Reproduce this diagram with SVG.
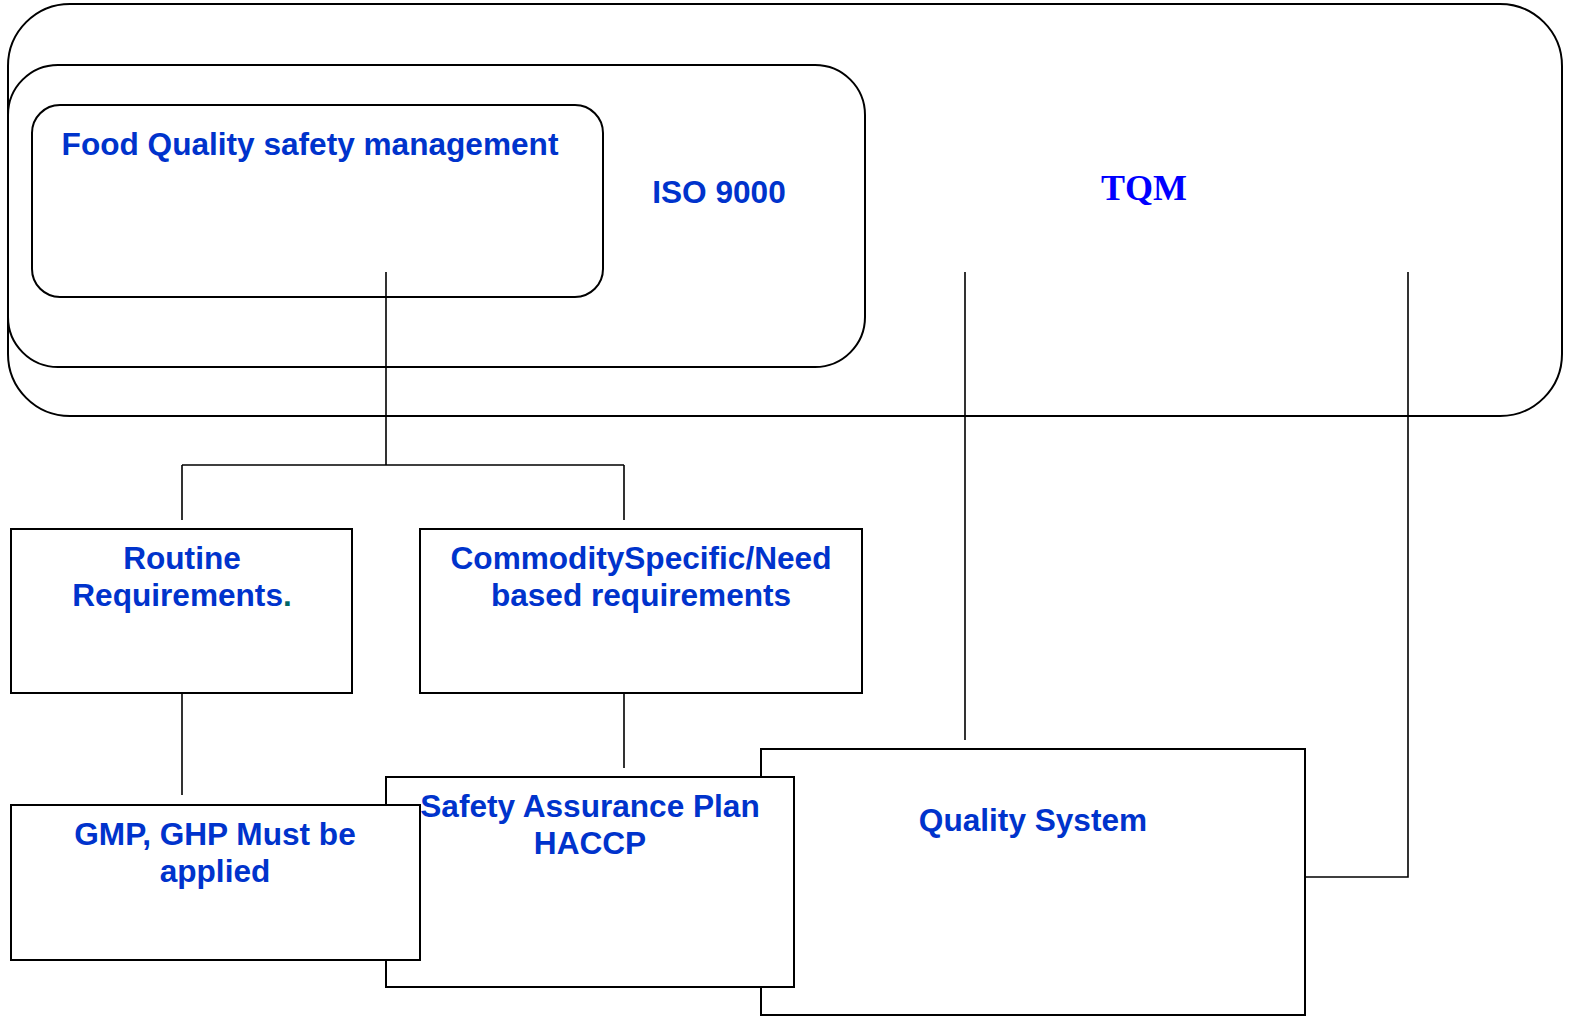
<svg xmlns="http://www.w3.org/2000/svg" width="1580" height="1026" viewBox="0 0 1580 1026">
<style>
.box{fill:#fff;stroke:#000;stroke-width:2}
.rbox{fill:none;stroke:#000;stroke-width:2}
.ln{fill:none;stroke:#000;stroke-width:1.6}
.t{font-family:"Liberation Sans",Arial,sans-serif;font-weight:bold;font-size:31.6px;fill:#0033CC;text-anchor:middle}
.tq{font-family:"Liberation Serif","Times New Roman",serif;font-weight:bold;font-size:36px;fill:#0000FF;text-anchor:middle}
</style>
<rect width="1580" height="1026" fill="#fff"/>
<g id="tqm">
<rect class="rbox" x="8" y="4" width="1554" height="412" rx="62" ry="62"/>
<text class="tq" x="1144" y="200">TQM</text>
</g>
<g id="iso9000">
<rect class="rbox" x="8" y="65" width="857" height="302" rx="50" ry="50"/>
<text class="t" x="719" y="203">ISO 9000</text>
</g>
<g id="food">
<rect class="rbox" x="32" y="105" width="571" height="192" rx="28" ry="28"/>
<text class="t" x="310" y="155">Food Quality safety management</text>
</g>
<g id="connectors">
<path class="ln" d="M386 272V465M182 465H624M182 465V520M624 465V520"/>
<path class="ln" d="M182 685V795M624 685V768"/>
<path class="ln" d="M965 272V740M1408 272V877H1305"/>
</g>
<g id="routine">
<rect class="box" x="11" y="529" width="341" height="164"/>
<text class="t" x="182" y="569">Routine</text>
<text class="t" x="182" y="606">Requirements<tspan fill="#006666">.</tspan></text>
</g>
<g id="commodity">
<rect class="box" x="420" y="529" width="442" height="164"/>
<text class="t" x="641" y="569">CommoditySpecific/Need</text>
<text class="t" x="641" y="606">based requirements</text>
</g>
<g id="quality">
<rect class="box" x="761" y="749" width="544" height="266"/>
<text class="t" x="1033" y="831">Quality System</text>
</g>
<g id="safety">
<rect class="box" x="386" y="777" width="408" height="210"/>
<text class="t" x="590" y="817">Safety Assurance Plan</text>
<text class="t" x="590" y="854">HACCP</text>
</g>
<g id="gmp">
<rect class="box" x="11" y="805" width="409" height="155"/>
<text class="t" x="215" y="845">GMP, GHP Must be</text>
<text class="t" x="215" y="882">applied</text>
</g>
</svg>
